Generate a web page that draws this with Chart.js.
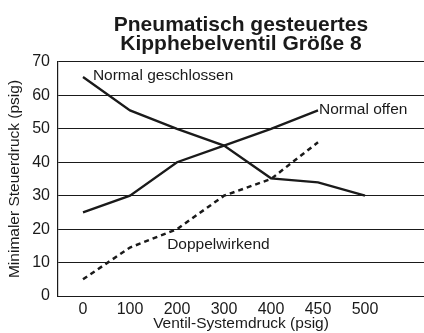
<!DOCTYPE html>
<html>
<head>
<meta charset="utf-8">
<script src="https://cdn.jsdelivr.net/npm/chart.js@4"></script>
<style>
  html, body { margin: 0; padding: 0; background: #fff; }
  #wrap { width: 424px; height: 333px; }
</style>
</head>
<body>
<div id="wrap"><canvas id="chart" width="424" height="333"></canvas></div>
<script>
// System pressure categories (psig) and minimum pilot pressure per valve type
const systemPressure = ['0', '100', '200', '300', '400', '450', '500'];
const normalClosed = [65.5, 55.5, 50, 45, 35.2, 34, 30];
const normalOpen = [25, 30, 40, 45, 50, 55.5];
const doubleActing = [5, 14.5, 20, 30, 35, 46];
const yTicks = [0, 10, 20, 30, 40, 50, 60, 70];

// curve labels, placed in data units (x = category index)
const curveLabels = [
  { text: 'Normal geschlossen', x: 0.21, y: 65.8 },
  { text: 'Normal offen', x: 5.02, y: 55.6 },
  { text: 'Doppelwirkend', x: 1.79, y: 15.3 }
];

const INK = '#1a1a1a';
const FONT = "'Liberation Sans', Arial, sans-serif";

const toPoints = arr => arr.map((v, i) => ({ x: i, y: v }));

const curveLabelPlugin = {
  id: 'curveLabels',
  afterDatasetsDraw(chart) {
    const { ctx, scales } = chart;
    ctx.save();
    ctx.fillStyle = INK;
    ctx.font = '15.5px ' + FONT;
    ctx.textAlign = 'left';
    ctx.textBaseline = 'middle';
    curveLabels.forEach(l => {
      ctx.fillText(l.text, scales.x.getPixelForValue(l.x), scales.y.getPixelForValue(l.y));
    });
    ctx.restore();
  }
};

new Chart(document.getElementById('chart'), {
  type: 'line',
  data: {
    datasets: [
      { label: 'Normal geschlossen', data: toPoints(normalClosed), borderColor: INK, borderWidth: 2.3, pointRadius: 0, tension: 0 },
      { label: 'Normal offen', data: toPoints(normalOpen), borderColor: INK, borderWidth: 2.3, pointRadius: 0, tension: 0 },
      { label: 'Doppelwirkend', data: toPoints(doubleActing), borderColor: INK, borderWidth: 2.5, borderDash: [5, 4], pointRadius: 0, tension: 0 }
    ]
  },
  options: {
    responsive: false,
    animation: false,
    layout: { padding: 0 },
    plugins: {
      legend: { display: false },
      tooltip: { enabled: false },
      title: {
        display: true,
        fullSize: false,
        text: ['Pneumatisch gesteuertes', 'Kipphebelventil Größe 8'],
        color: INK,
        font: { family: FONT, size: 21, weight: 'bold', lineHeight: 0.88 },
        padding: { top: 16, bottom: 9 }
      }
    },
    scales: {
      x: {
        type: 'linear',
        min: -0.532,
        max: 7.255,
        afterBuildTicks: s => { s.ticks = systemPressure.map((_, i) => ({ value: i })); },
        afterFit: s => { s.height = 37; },
        grid: { display: false, drawTicks: false },
        border: { display: true, color: INK, width: 1 },
        ticks: {
          autoSkip: false,
          padding: 4,
          color: INK,
          font: { family: FONT, size: 16 },
          callback: v => systemPressure[v]
        },
        title: {
          display: true,
          text: 'Ventil-Systemdruck (psig)',
          color: INK,
          font: { family: FONT, size: 15.5 },
          padding: { top: 0, bottom: 0 }
        }
      },
      y: {
        min: 0,
        max: 70,
        afterBuildTicks: s => { s.ticks = yTicks.map(v => ({ value: v })); },
        afterFit: s => { s.width = 58; },
        grid: { color: INK, lineWidth: 1, drawTicks: false },
        border: { display: true, color: INK, width: 1.2 },
        ticks: {
          padding: 8,
          color: INK,
          font: { family: FONT, size: 16 }
        },
        title: {
          display: true,
          text: 'Minimaler Steuerdruck (psig)',
          color: INK,
          font: { family: FONT, size: 15.5 },
          padding: { top: 5, bottom: 0 }
        }
      }
    }
  },
  plugins: [curveLabelPlugin]
});
</script>
</body>
</html>
